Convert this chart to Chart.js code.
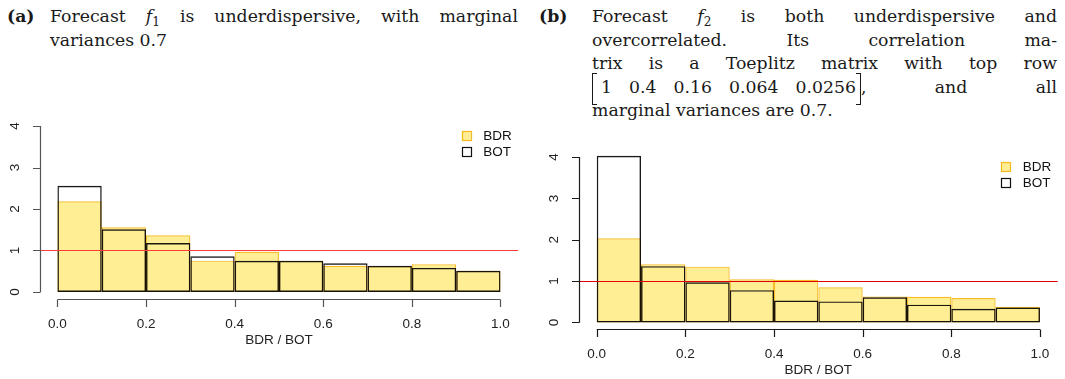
<!DOCTYPE html>
<html>
<head>
<meta charset="utf-8">
<script src="https://cdn.jsdelivr.net/npm/chart.js@4.4.1/dist/chart.umd.min.js"></script>
<style>
  body { margin: 0; width: 1065px; height: 379px; overflow: hidden; position: relative; background: #fff; color: #1a1a1a; font-family: "DejaVu Serif", serif; }
  .cap { position: absolute; font-size: 17.3px; line-height: 23.5px; }
  .cap .tag { position: absolute; left: 0; top: 0; font-weight: bold; }
  .cap .body { position: absolute; top: 0; }
  .ln { display: flex; justify-content: space-between; align-items: baseline; white-space: nowrap; }
  .plain { white-space: nowrap; }
  sub { font-size: 0.7em; vertical-align: -0.3em; line-height: 0; }
  .mat { position: relative; display: inline-block; padding: 0 5px 0 9px; }
  .mat .n { margin-left: 17px; }
  .mat .n.first { margin-left: 0; }
  .brk { position: absolute; top: -3px; bottom: -6px; width: 4px; border: 1.1px solid #1a1a1a; }
  .brk.l { left: 0; border-right: none; }
  .brk.r { right: 0; border-left: none; }
  canvas { position: absolute; }
</style>
</head>
<body>

<div class="cap" style="left:7px; top:5px; width:511px;">
  <span class="tag">(a)</span>
  <div class="body" style="left:43px; right:0;">
    <div class="ln"><span>Forecast</span><span><i>f</i><sub>1</sub></span><span>is</span><span>underdispersive,</span><span>with</span><span>marginal</span></div>
    <div class="plain">variances 0.7</div>
  </div>
</div>

<div class="cap" style="left:539px; top:5px; width:518px;">
  <span class="tag">(b)</span>
  <div class="body" style="left:53px; right:0;">
    <div class="ln"><span>Forecast</span><span><i>f</i><sub>2</sub></span><span>is</span><span>both</span><span>underdispersive</span><span>and</span></div>
    <div class="ln"><span>overcorrelated.</span><span>Its</span><span>correlation</span><span>ma-</span></div>
    <div class="ln"><span>trix</span><span>is</span><span>a</span><span>Toeplitz</span><span>matrix</span><span>with</span><span>top</span><span>row</span></div>
    <div class="ln"><span><span class="mat"><span class="brk l"></span><span class="n first">1</span><span class="n">0.4</span><span class="n">0.16</span><span class="n">0.064</span><span class="n">0.0256</span><span class="brk r"></span></span>,</span><span>and</span><span>all</span></div>
    <div class="plain">marginal variances are 0.7.</div>
  </div>
</div>

<canvas id="histA" width="532" height="279" style="left:0; top:100px;"></canvas>
<canvas id="histB" width="533" height="249" style="left:532px; top:130px;"></canvas>

<script>
// bins of width 0.1 on [0, 1]
const binEdges = [0, 0.1, 0.2, 0.3, 0.4, 0.5, 0.6, 0.7, 0.8, 0.9, 1.0];
const xTicks = [0, 0.2, 0.4, 0.6, 0.8, 1.0];
const xTickLabels = ["0.0", "0.2", "0.4", "0.6", "0.8", "1.0"];
const yTicks = [0, 1, 2, 3, 4];
const seriesNames = ["BDR", "BOT"];
const refLevel = 1;

// densities, forecast f1
const bdrA = [2.185, 1.56, 1.365, 0.755, 0.97, 0.75, 0.63, 0.62, 0.67, 0.51];
const botA = [2.56, 1.51, 1.18, 0.86, 0.75, 0.75, 0.69, 0.63, 0.58, 0.51];

// densities, forecast f2
const bdrB = [2.035, 1.41, 1.35, 1.045, 1.03, 0.85, 0.63, 0.62, 0.59, 0.38];
const botB = [4.03, 1.36, 0.97, 0.78, 0.53, 0.51, 0.61, 0.43, 0.33, 0.36];

const fillBDR = "rgba(255, 215, 0, 0.42)";
const lineBDR = "rgba(245, 175, 0, 0.85)";
const lineBOT = "rgba(0, 0, 0, 0.9)";

function toPoints(vals) {
  return vals.map((v, i) => ({ x: (binEdges[i] + binEdges[i + 1]) / 2, y: v }));
}

// base-graphics style axes, reference line and legend
const rAxes = {
  id: 'rAxes',
  afterDatasetsDraw(chart, args, o) {
    const { ctx, chartArea: a, scales: { x, y } } = chart;
    ctx.save();

    const yr = Math.round(y.getPixelForValue(refLevel)) + 0.5;
    ctx.strokeStyle = o.refColor;
    ctx.lineWidth = 1.2;
    ctx.beginPath();
    ctx.moveTo(a.left, yr);
    ctx.lineTo(a.right, yr);
    ctx.stroke();

    ctx.strokeStyle = o.axisColor;
    ctx.fillStyle = "#222";
    ctx.lineWidth = 1.2;
    ctx.font = '13.5px "Liberation Sans", Arial, sans-serif';

    // x axis
    const xb = Math.round(a.bottom) + 0.5;
    ctx.beginPath();
    ctx.moveTo(x.getPixelForValue(xTicks[0]), xb);
    ctx.lineTo(x.getPixelForValue(xTicks[xTicks.length - 1]), xb);
    xTicks.forEach(t => {
      const px = Math.round(x.getPixelForValue(t)) + 0.5;
      ctx.moveTo(px, xb);
      ctx.lineTo(px, xb + 7.5);
    });
    ctx.stroke();
    ctx.textAlign = "center";
    ctx.textBaseline = "middle";
    xTicks.forEach((t, i) => ctx.fillText(xTickLabels[i], x.getPixelForValue(t), a.bottom + 25.5));
    ctx.fillText(o.xTitle, (x.getPixelForValue(0) + x.getPixelForValue(1)) / 2, a.bottom + 41.5);

    // y axis
    const yl = Math.round(a.left) + 0.5;
    ctx.beginPath();
    ctx.moveTo(yl, y.getPixelForValue(yTicks[0]));
    ctx.lineTo(yl, y.getPixelForValue(yTicks[yTicks.length - 1]));
    yTicks.forEach(t => {
      const py = Math.round(y.getPixelForValue(t)) + 0.5;
      ctx.moveTo(yl, py);
      ctx.lineTo(yl - 7.5, py);
    });
    ctx.stroke();
    yTicks.forEach(t => {
      ctx.save();
      ctx.translate(a.left - 24.5, y.getPixelForValue(t));
      ctx.rotate(-Math.PI / 2);
      ctx.fillText(String(t), 0, 0);
      ctx.restore();
    });

    // legend, top right
    const bx = a.right - 52, tx = a.right - 35;
    const rows = [a.top + 17, a.top + 32.5];
    ctx.textAlign = "left";
    ctx.lineWidth = 1.2;
    rows.forEach((ry, i) => {
      const r = Math.round(ry);
      if (i === 0) {
        ctx.fillStyle = fillBDR;
        ctx.fillRect(bx - 4.5, r - 4.5, 9, 9);
        ctx.strokeStyle = lineBDR;
      } else {
        ctx.strokeStyle = "#111";
      }
      ctx.strokeRect(Math.round(bx - 4.5) + 0.5, r - 4.5, 9, 9);
      ctx.fillStyle = "#111";
      ctx.fillText(seriesNames[i], tx, r + 0.5);
    });

    ctx.restore();
  }
};

function drawHist(id, bdr, bot, pad, axisColor, refColor) {
  return new Chart(document.getElementById(id), {
    type: 'bar',
    data: {
      datasets: [
        // BOT outlines sit over the shaded BDR bars
        { label: seriesNames[1], data: toPoints(bot), backgroundColor: "rgba(0,0,0,0)", borderColor: lineBOT, borderWidth: 1.4, inflateAmount: 0, borderSkipped: false, order: 0 },
        { label: seriesNames[0], data: toPoints(bdr), backgroundColor: fillBDR, borderColor: lineBDR, borderWidth: 1.2, inflateAmount: 0, borderSkipped: false, order: 1 }
      ]
    },
    options: {
      responsive: false,
      animation: false,
      devicePixelRatio: 1,
      grouped: false,
      barPercentage: 1,
      categoryPercentage: 1,
      layout: { padding: pad },
      scales: {
        x: { type: 'linear', min: -0.04, max: 1.04, offset: false, display: false },
        y: { type: 'linear', min: -0.16, max: 4.16, display: false }
      },
      plugins: {
        legend: { display: false },
        tooltip: { enabled: false },
        rAxes: { axisColor, refColor, xTitle: "BDR / BOT" }
      }
    },
    plugins: [rAxes]
  });
}

drawHist("histA", bdrA, botA, { left: 39.7, right: 13.8, top: 19.4, bottom: 80.4 }, "#555", "#ff3b3b");
drawHist("histB", bdrB, botB, { left: 47, right: 7.3, top: 20.4, bottom: 49.9 }, "#1a1a1a", "#e00000");
</script>
</body>
</html>
